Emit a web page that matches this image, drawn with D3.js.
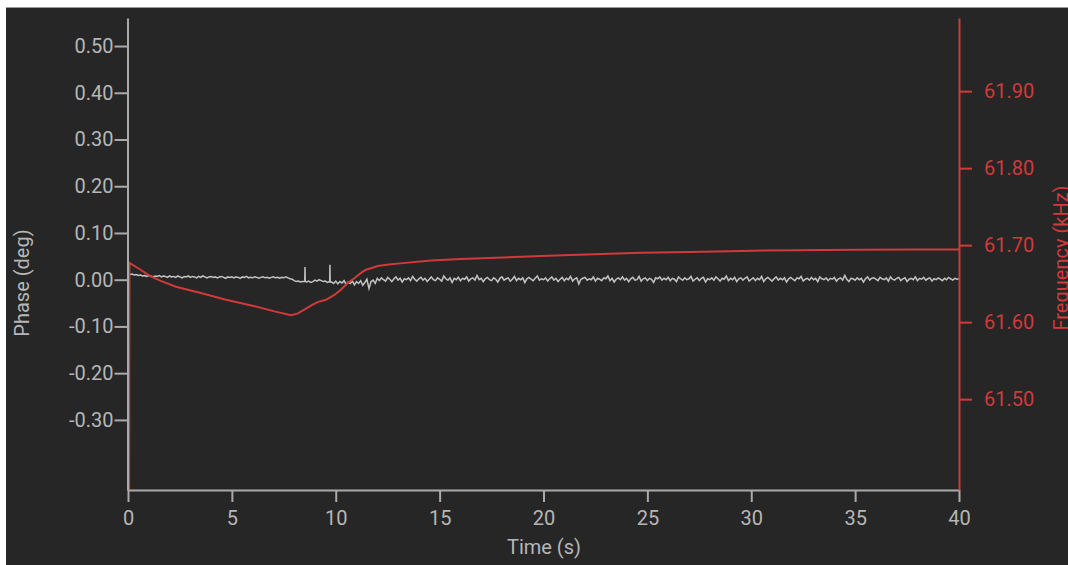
<!DOCTYPE html>
<html>
<head>
<meta charset="utf-8">
<script src="https://cdn.jsdelivr.net/npm/d3@7"></script>
<style>
  html, body { margin: 0; padding: 0; background: #ffffff; }
  svg { display: block; }
  text { font-family: Roboto, "Noto Sans", sans-serif; }
</style>
</head>
<body>
<svg id="chart" width="1068" height="565"></svg>
<script>
// ---------- data ----------
const xTicks = [0, 5, 10, 15, 20, 25, 30, 35, 40];
const phaseTicks = [-0.3, -0.2, -0.1, 0, 0.1, 0.2, 0.3, 0.4, 0.5];
const freqTicks = [61.5, 61.6, 61.7, 61.8, 61.9];

// phase samples (deg), every 0.1 s from 0 to 40 s
const phaseStart = 0;
const phaseStep = 0.1;
const phaseValues = [
  0.013,0.011,0.012,0.010,0.011,0.009,0.010,0.008,0.009,0.007,
  0.009,0.008,0.006,0.008,0.007,0.009,0.006,0.008,0.007,0.005,
  0.008,0.006,0.007,0.005,0.008,0.006,0.004,0.007,0.006,0.008,
  0.005,0.007,0.006,0.004,0.007,0.005,0.008,0.006,0.004,0.006,
  0.007,0.005,0.006,0.004,0.006,0.007,0.005,0.003,0.006,0.005,
  0.006,0.004,0.006,0.005,0.003,0.006,0.005,0.007,0.004,0.005,
  0.004,0.006,0.005,0.003,0.005,0.006,0.004,0.005,0.003,0.005,
  0.006,0.004,0.005,0.003,0.005,0.004,0.006,0.004,0.002,0.001,
  -0.002,-0.004,-0.003,-0.005,-0.004,-0.004,-0.005,-0.003,-0.006,-0.004,
  -0.001,-0.003,0.000,-0.002,-0.004,-0.003,-0.006,-0.004,-0.005,-0.008,
  -0.003,-0.009,-0.004,-0.007,-0.002,-0.010,-0.005,-0.008,-0.003,-0.011,
  -0.004,-0.008,-0.002,-0.012,-0.006,0.001,-0.019,-0.004,-0.001,-0.008,
  0.003,-0.002,0.004,0.000,-0.003,0.005,0.001,-0.004,0.002,0.006,
  -0.001,0.003,-0.005,0.002,0.000,0.004,-0.002,0.007,0.001,-0.003,
  0.002,0.005,-0.001,0.003,-0.004,0.001,0.006,0.000,-0.002,0.004,
  0.001,-0.003,0.008,0.002,-0.001,0.004,-0.006,0.003,0.000,0.005,
  -0.002,0.003,0.001,0.006,-0.003,0.002,0.004,-0.001,0.009,0.000,
  0.003,-0.004,0.002,0.005,0.000,-0.002,0.004,0.001,-0.005,0.003,
  0.006,-0.001,0.002,0.004,-0.003,0.001,0.007,-0.002,0.003,0.000,
  0.004,-0.006,0.002,0.005,0.001,-0.002,0.003,0.008,-0.001,0.002,
  0.000,0.004,-0.003,0.002,0.006,-0.001,0.003,-0.004,0.001,0.005,
  -0.002,0.003,0.000,0.007,-0.003,0.002,0.004,-0.009,0.001,0.003,
  0.005,-0.001,0.002,0.000,0.006,-0.003,0.003,0.001,-0.002,0.004,
  0.002,0.008,-0.002,0.003,-0.005,0.001,0.004,0.000,0.006,-0.001,
  0.003,-0.004,0.002,0.005,-0.001,0.000,0.007,-0.003,0.002,0.004,
  -0.002,0.003,0.001,-0.006,0.004,0.002,0.006,-0.001,0.003,0.000,
  0.005,-0.002,0.003,0.001,-0.004,0.006,0.002,-0.001,0.004,0.000,
  0.002,0.007,-0.003,0.001,0.004,-0.002,0.003,0.005,-0.005,0.002,
  0.000,0.004,-0.001,0.006,0.002,-0.003,0.003,0.001,0.008,-0.002,
  0.003,0.000,0.005,-0.004,0.002,0.004,-0.001,0.003,0.006,-0.003,
  0.001,0.004,-0.002,0.003,0.000,0.007,-0.004,0.002,0.005,0.001,
  -0.003,0.002,0.006,-0.001,0.003,0.000,0.004,-0.005,0.002,0.005,
  0.001,-0.002,0.004,0.002,0.007,-0.003,0.001,0.003,-0.001,0.005,
  0.000,0.003,-0.004,0.006,0.002,0.000,0.004,-0.002,0.003,0.001,
  0.005,-0.003,0.002,0.004,-0.001,0.009,0.001,-0.004,0.003,0.002,
  -0.001,0.004,0.000,0.003,-0.005,0.002,0.006,-0.001,0.003,0.004,
  0.001,-0.002,0.005,0.002,0.000,0.004,-0.003,0.006,0.001,-0.001,
  0.003,0.005,-0.002,0.002,0.004,-0.004,0.001,0.003,0.000,0.006,
  -0.002,0.003,0.001,0.005,-0.001,0.002,0.004,-0.003,0.002,0.000,
  0.004,0.001,-0.002,0.003,0.000,0.005,0.002,-0.001,0.003,0.001,
  0.002
];
// narrow glitches in the phase trace: [time s, phase deg]
const phaseSpikes = [
  [8.51, -0.004], [8.52, 0.027], [8.53, -0.004],
  [9.71, -0.004], [9.72, 0.032], [9.73, -0.005]
];

// frequency samples: time (s) and frequency (kHz)
const freqTime = [0, 0.02, 0.5, 1.0, 1.5, 2.26, 3.5, 4.67, 6.0, 7.0, 7.8, 8.1, 8.42, 8.8,
  9.08, 9.48, 9.87, 10.2, 10.53, 10.85, 11.17, 11.4, 11.65, 11.97, 12.5, 12.93, 14.54,
  15.98, 18, 19.83, 22, 24.64, 27, 29.46, 32, 35, 38, 40];
const freqValues = [61.30, 61.677, 61.669, 61.660, 61.654, 61.646, 61.6375, 61.629, 61.621,
  61.614, 61.609, 61.611, 61.616, 61.622, 61.626, 61.629, 61.635, 61.642, 61.651, 61.657,
  61.664, 61.668, 61.670, 61.673, 61.675, 61.676, 61.680, 61.682, 61.684, 61.686, 61.688,
  61.690, 61.691, 61.6925, 61.6935, 61.694, 61.6942, 61.6944];

// ---------- drawing ----------
(function () {
const W = 1068, H = 565;
const pLeft = 128, pRight = 959, pTop = 18, pBottom = 490;
const grey = "#aaaaaa", greyText = "#b6b6b6", red = "#d03a3a";
const fs = "20px";

const svg = d3.select("#chart");
svg.append("rect").attr("x", 6).attr("y", 7).attr("width", W - 6).attr("height", H - 7)
  .attr("fill", "#262626");
svg.append("line").attr("x1", 6).attr("x2", W).attr("y1", 7.5).attr("y2", 7.5)
  .attr("stroke", "#9a9a9a").attr("stroke-width", 1);

const x = d3.scaleLinear().domain([0, 40]).range([pLeft, pRight]);
const yL = d3.scaleLinear().domain([-0.45, 0.56]).range([pBottom, pTop]);
const yR = d3.scaleLinear().domain([61.382, 61.995]).range([pBottom, pTop]);

svg.append("defs").append("clipPath").attr("id", "plot")
  .append("rect").attr("x", pLeft).attr("y", pTop).attr("width", pRight - pLeft).attr("height", pBottom - pTop);

// phase line
const phasePts = phaseValues.map((v, i) => [phaseStart + i * phaseStep, v])
  .concat(phaseSpikes).sort((a, b) => a[0] - b[0]);
svg.append("path").datum(phasePts)
  .attr("clip-path", "url(#plot)")
  .attr("fill", "none").attr("stroke", "#c4c4c4").attr("stroke-width", 1.5)
  .attr("d", d3.line().x(d => x(d[0])).y(d => yL(d[1])));

// frequency line
const freqPts = freqTime.map((t, i) => [t, freqValues[i]]);
svg.append("path").datum(freqPts)
  .attr("clip-path", "url(#plot)")
  .attr("fill", "none").attr("stroke", red).attr("stroke-width", 2)
  .attr("d", d3.line().x(d => x(d[0]) + 1).y(d => yR(d[1])));

// axes
function styleAxis(g, color, textColor) {
  g.selectAll("path.domain").attr("stroke", color).attr("stroke-width", 2);
  g.selectAll(".tick line").attr("stroke", color).attr("stroke-width", 2);
  g.selectAll(".tick text").attr("fill", textColor).style("font-size", fs)
    .style("font-family", "Roboto, 'Noto Sans', sans-serif");
}

const gx = svg.append("g").attr("transform", `translate(0,${pBottom})`)
  .call(d3.axisBottom(x).tickValues(xTicks).tickFormat(d3.format("d"))
    .tickSize(12).tickSizeOuter(0).tickPadding(9));
styleAxis(gx, grey, greyText);

const gl = svg.append("g").attr("transform", `translate(${pLeft - 0.5},0)`)
  .call(d3.axisLeft(yL).tickValues(phaseTicks).tickFormat(d => d.toFixed(2))
    .tickSize(13).tickSizeOuter(0).tickPadding(1));
styleAxis(gl, grey, greyText);

const gr = svg.append("g").attr("transform", `translate(${pRight},0)`)
  .call(d3.axisRight(yR).tickValues(freqTicks).tickFormat(d => d.toFixed(2))
    .tickSize(13).tickSizeOuter(0).tickPadding(12));
styleAxis(gr, red, red);

// axis titles
svg.append("text").attr("x", (pLeft + pRight) / 2 + 0.5).attr("y", 554)
  .attr("text-anchor", "middle").attr("fill", greyText).style("font-size", fs)
  .text("Time (s)");
svg.append("text").attr("transform", "translate(29,283) rotate(-90)")
  .attr("text-anchor", "middle").attr("fill", greyText).style("font-size", fs)
  .text("Phase (deg)");
svg.append("text").attr("transform", "translate(1068,258) rotate(-90)")
  .attr("text-anchor", "middle").attr("fill", red).style("font-size", fs)
  .text("Frequency (kHz)");
})();
</script>
</body>
</html>
